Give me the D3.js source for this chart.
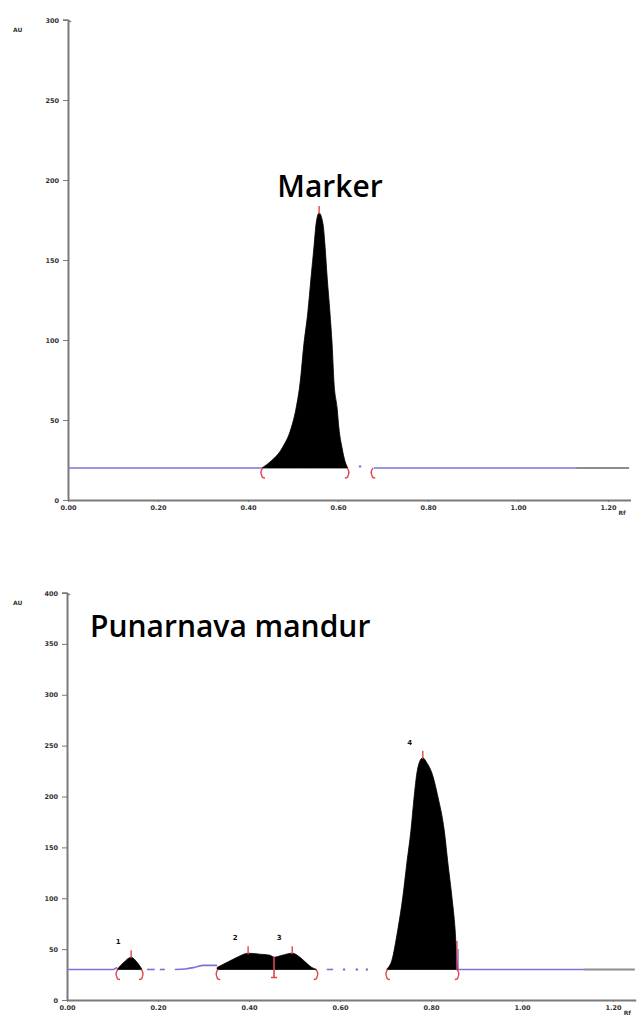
<!DOCTYPE html>
<html lang="en">
<head>
    <meta charset="UTF-8">
    <title>HPTLC densitograms - Marker / Punarnava mandur</title>
    <script src="https://d3js.org/d3.v7.min.js"></script>
    <style>
        body {
            margin: 0;
            background: #fff;
            overflow: hidden;
        }
        svg {
            display: block;
        }
        .tick text {
            font-family: 'DejaVu Sans', sans-serif;
            font-size: 6.5px;
            font-weight: bold;
            fill: #333;
        }
        .axis path, .axis line {
            stroke: #7a7a7a;
        }
        .title {
            font-family: 'Open Sans', sans-serif;
            font-weight: 600;
            font-size: 30px;
            fill: #000;
        }
        .unit {
            font-family: 'DejaVu Sans', sans-serif;
            font-size: 6px;
            font-weight: bold;
            fill: #333;
        }
        .peak-label {
            font-family: 'DejaVu Sans', sans-serif;
            font-size: 7px;
            font-weight: bold;
            fill: #111;
        }
    </style>
</head>
<body>
    <svg></svg>

    <script>
        const width = 639;
        const height = 1017;

        // shared x ticks (Rf)
        const rfTicks = [0, 0.2, 0.4, 0.6, 0.8, 1.0, 1.2];
        const rfMax = 1.25;

        // ---- Marker track ----
        const markerTicksY = [0, 50, 100, 150, 200, 250, 300];
        const markerBaseline = 20;
        const markerPeak = [
            [0.431, 20], [0.449, 23.8], [0.476, 32.5], [0.496, 45], [0.507, 57.5],
            [0.516, 73.8], [0.524, 96.9], [0.533, 117.5], [0.540, 138.8], [0.547, 159.4],
            [0.551, 171.9], [0.558, 179.4], [0.567, 171.9], [0.571, 159.4], [0.576, 138.8],
            [0.582, 117.5], [0.587, 96.9], [0.591, 73.8], [0.598, 57.5], [0.602, 45],
            [0.609, 32.5], [0.616, 23.8], [0.622, 20]
        ];
        const markerApex = [{ rf: 0.558, au: 179.4, label: "" }];
        const markerBlue = [
            [[0, 20], [0.431, 20]],
            [[0.680, 20], [1.129, 20]]
        ];
        const markerGray = [[[1.129, 20], [1.247, 20]]];
        const markerDots = [[0.649, 21]];
        const markerBrackets = [
            { rf: 0.431, side: "L" }, { rf: 0.622, side: "R" }, { rf: 0.676, side: "L" }
        ];
        const markerDividers = [];
        const markerEndBars = [];

        // ---- Punarnava mandur track ----
        const sampleTicksY = [0, 50, 100, 150, 200, 250, 300, 350, 400];
        const sampleBaseline = 30;
        const samplePeak1 = [
            [0.110, 30], [0.125, 37], [0.141, 42], [0.154, 37], [0.165, 30]
        ];
        const samplePeak23 = [
            [0.330, 32], [0.352, 37], [0.374, 42], [0.398, 46], [0.424, 45],
            [0.446, 44], [0.455, 42], [0.473, 44], [0.495, 46], [0.512, 42],
            [0.527, 36], [0.538, 32], [0.549, 30]
        ];
        const samplePeak4 = [
            [0.703, 30.5], [0.714, 39], [0.727, 69], [0.738, 101], [0.747, 135],
            [0.756, 167], [0.763, 200], [0.769, 223], [0.774, 233], [0.782, 238],
            [0.791, 233], [0.802, 223], [0.815, 200], [0.829, 167], [0.837, 135],
            [0.846, 101], [0.853, 69], [0.857, 39], [0.859, 30.5]
        ];
        const sampleApex = [
            { rf: 0.141, au: 42, label: "1" },
            { rf: 0.398, au: 46, label: "2" },
            { rf: 0.495, au: 46, label: "3" },
            { rf: 0.782, au: 238, label: "4" }
        ];
        const sampleBlue = [
            [[0, 30], [0.101, 30], [0.110, 32]],
            [[0.176, 30], [0.193, 30]],
            [[0.204, 30], [0.215, 30]],
            [[0.237, 30], [0.260, 30.5], [0.280, 32], [0.300, 34], [0.330, 34]],
            [[0.571, 30], [0.585, 30]],
            [[0.859, 30], [1.136, 30]]
        ];
        const sampleGray = [[[1.136, 30], [1.248, 30]]];
        const sampleDots = [[0.609, 30], [0.637, 30], [0.659, 30]];
        const sampleBrackets = [
            { rf: 0.110, side: "L" }, { rf: 0.165, side: "R" },
            { rf: 0.330, side: "L" }, { rf: 0.549, side: "R" },
            { rf: 0.703, side: "L" }, { rf: 0.859, side: "R" }
        ];
        const sampleDividers = [0.455];
        const sampleEndBars = [{ rf: 0.857, au: 58 }];

        const svg = d3.select("svg")
            .attr("width", width)
            .attr("height", height);

        function drawPanel(p) {
            const x = d3.scaleLinear().domain([0, rfMax]).range([p.left, p.right]);
            const y = d3.scaleLinear().domain([0, p.yMax]).range([p.bottom, p.top]);
            const g = svg.append("g");

            // axes
            g.append("g")
                .attr("class", "axis")
                .attr("transform", `translate(0,${p.bottom})`)
                .call(d3.axisBottom(x).tickValues(rfTicks).tickFormat(d3.format(".2f"))
                    .tickSize(2).tickSizeOuter(0).tickPadding(3))
                .call(a => a.select(".domain").attr("stroke-width", 2));

            g.append("g")
                .attr("class", "axis")
                .attr("transform", `translate(${p.left},0)`)
                .call(d3.axisLeft(y).tickValues(p.ticksY).tickSize(5).tickSizeOuter(0).tickPadding(4))
                .call(a => a.select(".domain").attr("stroke-width", 2));

            // little hook on the top of the y axis
            g.append("path")
                .attr("d", `M${p.left - 5},${p.top} L${p.left},${p.top} L${p.left + 3},${p.top + 2}`)
                .attr("fill", "none")
                .attr("stroke", "#7a7a7a")
                .attr("stroke-width", 1.5);

            g.append("text").attr("class", "unit")
                .attr("x", 13).attr("y", p.top + 12).text("AU");
            g.append("text").attr("class", "unit")
                .attr("x", p.right - 12).attr("y", p.bottom + 15).text("Rf");

            const line = d3.line().x(d => x(d[0])).y(d => y(d[1])).curve(d3.curveMonotoneX);
            const blue = "#7b72d8";
            const red = "#e0454d";

            // baseline pieces
            g.selectAll(".gray").data(p.gray).enter().append("path")
                .attr("d", line).attr("fill", "none")
                .attr("stroke", "#8c8c8c").attr("stroke-width", 2);
            g.selectAll(".blue").data(p.blue).enter().append("path")
                .attr("d", line).attr("fill", "none")
                .attr("stroke", blue).attr("stroke-width", 1.6);
            g.selectAll(".bdot").data(p.dots).enter().append("circle")
                .attr("cx", d => x(d[0])).attr("cy", d => y(d[1]))
                .attr("r", 1.2).attr("fill", blue);

            // filled peaks
            const area = d3.area()
                .x(d => x(d[0]))
                .y0(y(p.baseline))
                .y1(d => y(d[1]))
                .curve(d3.curveMonotoneX);
            g.selectAll(".peak").data(p.peaks).enter().append("path")
                .attr("d", area)
                .attr("fill", "#000")
                .attr("stroke", "#000")
                .attr("stroke-width", 0.8);

            const by = y(p.baseline);

            // red/blue bar closing a peak on its right side
            p.endBars.forEach(d => {
                g.append("line")
                    .attr("x1", x(d.rf)).attr("x2", x(d.rf))
                    .attr("y1", y(d.au)).attr("y2", by)
                    .attr("stroke", red).attr("stroke-width", 1.4);
                g.append("line")
                    .attr("x1", x(d.rf) + 1.2).attr("x2", x(d.rf) + 1.2)
                    .attr("y1", y(d.au) + 8).attr("y2", by)
                    .attr("stroke", blue).attr("stroke-width", 1.2);
            });

            // start / end brackets
            g.selectAll(".bracket").data(p.brackets).enter().append("path")
                .attr("d", d => {
                    const bx = x(d.rf);
                    const s = d.side === "L" ? 1 : -1;
                    return `M${bx + s * 1},${by} C${bx - s * 2},${by + 3} ${bx - s * 1},${by + 6} ${bx},${by + 8}` +
                        ` C${bx},${by + 9} ${bx + s * 1},${by + 10} ${bx + s * 3},${by + 10}`;
                })
                .attr("fill", "none")
                .attr("stroke", red)
                .attr("stroke-width", 1.4);

            // dividers between fused peaks
            g.selectAll(".divider").data(p.dividers).enter().append("path")
                .attr("d", d => {
                    const dx = x(d);
                    return `M${dx},${by - 13} L${dx},${by + 8} M${dx - 3},${by + 8} L${dx + 3},${by + 8}`;
                })
                .attr("stroke", red)
                .attr("stroke-width", 1.6)
                .attr("fill", "none");

            // apex ticks and peak numbers
            g.selectAll(".apex").data(p.apex).enter().append("line")
                .attr("x1", d => x(d.rf)).attr("x2", d => x(d.rf))
                .attr("y1", d => y(d.au) - 7).attr("y2", d => y(d.au) + 1)
                .attr("stroke", red)
                .attr("stroke-width", 1.4);
            g.selectAll(".plabel").data(p.apex).enter().append("text")
                .attr("class", "peak-label")
                .attr("x", d => x(d.rf) - 13)
                .attr("y", d => y(d.au) - 13)
                .attr("text-anchor", "middle")
                .text(d => d.label);

            g.append("text")
                .attr("class", "title")
                .attr("x", p.titleX).attr("y", p.titleY)
                .attr("text-anchor", p.titleAnchor)
                .text(p.title);

            return g;
        }

        drawPanel({
            left: 68, right: 68 + rfMax * 450, top: 20, bottom: 500, yMax: 300,
            ticksY: markerTicksY, baseline: markerBaseline,
            peaks: [markerPeak], apex: markerApex,
            blue: markerBlue, gray: markerGray, dots: markerDots,
            brackets: markerBrackets, dividers: markerDividers, endBars: markerEndBars,
            title: "Marker", titleX: 330, titleY: 197, titleAnchor: "middle"
        });

        drawPanel({
            left: 67, right: 67 + rfMax * 455, top: 593, bottom: 1000, yMax: 400,
            ticksY: sampleTicksY, baseline: sampleBaseline,
            peaks: [samplePeak1, samplePeak23, samplePeak4], apex: sampleApex,
            blue: sampleBlue, gray: sampleGray, dots: sampleDots,
            brackets: sampleBrackets, dividers: sampleDividers, endBars: sampleEndBars,
            title: "Punarnava mandur", titleX: 90, titleY: 637, titleAnchor: "start"
        });
    </script>
</body>
</html>
